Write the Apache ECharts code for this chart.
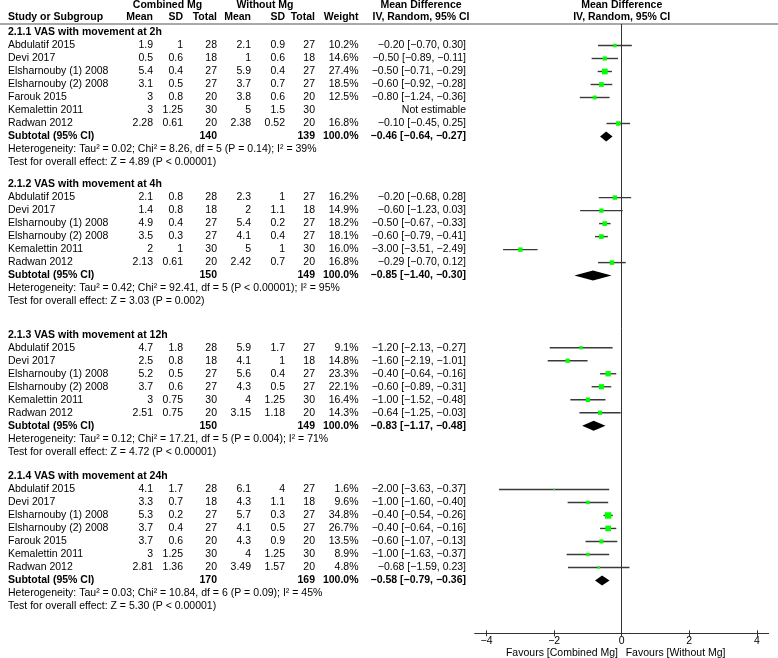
<!DOCTYPE html>
<html><head><meta charset="utf-8">
<script src="https://cdn.jsdelivr.net/npm/echarts@6/dist/echarts.min.js"></script>
<style>html,body{margin:0;padding:0;background:#fff}#c{width:778px;height:658px}</style>
</head><body><div id="c"></div>
<script>
// ---------------- DATA ----------------
const subgroupTitles = [
  '2.1.1 VAS with movement at 2h',
  '2.1.2 VAS with movement at 4h',
  '2.1.3 VAS with movement at 12h',
  '2.1.4 VAS with movement at 24h'
];
// [study, combined mean, SD, total, without mean, SD, total, weight %, MD, CI low, CI high]
const studies2h = [
  ['Abdulatif 2015', 1.9, 1, 28, 2.1, 0.9, 27, 10.2, -0.20, -0.70, 0.30],
  ['Devi 2017', 0.5, 0.6, 18, 1, 0.6, 18, 14.6, -0.50, -0.89, -0.11],
  ['Elsharnouby (1) 2008', 5.4, 0.4, 27, 5.9, 0.4, 27, 27.4, -0.50, -0.71, -0.29],
  ['Elsharnouby (2) 2008', 3.1, 0.5, 27, 3.7, 0.7, 27, 18.5, -0.60, -0.92, -0.28],
  ['Farouk 2015', 3, 0.8, 20, 3.8, 0.6, 20, 12.5, -0.80, -1.24, -0.36],
  ['Kemalettin 2011', 3, 1.25, 30, 5, 1.5, 30, null, null, null, null],
  ['Radwan 2012', 2.28, 0.61, 20, 2.38, 0.52, 20, 16.8, -0.10, -0.45, 0.25]
];
const studies4h = [
  ['Abdulatif 2015', 2.1, 0.8, 28, 2.3, 1, 27, 16.2, -0.20, -0.68, 0.28],
  ['Devi 2017', 1.4, 0.8, 18, 2, 1.1, 18, 14.9, -0.60, -1.23, 0.03],
  ['Elsharnouby (1) 2008', 4.9, 0.4, 27, 5.4, 0.2, 27, 18.2, -0.50, -0.67, -0.33],
  ['Elsharnouby (2) 2008', 3.5, 0.3, 27, 4.1, 0.4, 27, 18.1, -0.60, -0.79, -0.41],
  ['Kemalettin 2011', 2, 1, 30, 5, 1, 30, 16.0, -3.00, -3.51, -2.49],
  ['Radwan 2012', 2.13, 0.61, 20, 2.42, 0.7, 20, 16.8, -0.29, -0.70, 0.12]
];
const studies12h = [
  ['Abdulatif 2015', 4.7, 1.8, 28, 5.9, 1.7, 27, 9.1, -1.20, -2.13, -0.27],
  ['Devi 2017', 2.5, 0.8, 18, 4.1, 1, 18, 14.8, -1.60, -2.19, -1.01],
  ['Elsharnouby (1) 2008', 5.2, 0.5, 27, 5.6, 0.4, 27, 23.3, -0.40, -0.64, -0.16],
  ['Elsharnouby (2) 2008', 3.7, 0.6, 27, 4.3, 0.5, 27, 22.1, -0.60, -0.89, -0.31],
  ['Kemalettin 2011', 3, 0.75, 30, 4, 1.25, 30, 16.4, -1.00, -1.52, -0.48],
  ['Radwan 2012', 2.51, 0.75, 20, 3.15, 1.18, 20, 14.3, -0.64, -1.25, -0.03]
];
const studies24h = [
  ['Abdulatif 2015', 4.1, 1.7, 28, 6.1, 4, 27, 1.6, -2.00, -3.63, -0.37],
  ['Devi 2017', 3.3, 0.7, 18, 4.3, 1.1, 18, 9.6, -1.00, -1.60, -0.40],
  ['Elsharnouby (1) 2008', 5.3, 0.2, 27, 5.7, 0.3, 27, 34.8, -0.40, -0.54, -0.26],
  ['Elsharnouby (2) 2008', 3.7, 0.4, 27, 4.1, 0.5, 27, 26.7, -0.40, -0.64, -0.16],
  ['Farouk 2015', 3.7, 0.6, 20, 4.3, 0.9, 20, 13.5, -0.60, -1.07, -0.13],
  ['Kemalettin 2011', 3, 1.25, 30, 4, 1.25, 30, 8.9, -1.00, -1.63, -0.37],
  ['Radwan 2012', 2.81, 1.36, 20, 3.49, 1.57, 20, 4.8, -0.68, -1.59, 0.23]
];
// [combined total, without total, MD, CI low, CI high]
const subtotals = [
  [140, 139, -0.46, -0.64, -0.27],
  [150, 149, -0.85, -1.40, -0.30],
  [150, 149, -0.83, -1.17, -0.48],
  [170, 169, -0.58, -0.79, -0.36]
];
const heterogeneity = [
  'Heterogeneity: Tau² = 0.02; Chi² = 8.26, df = 5 (P = 0.14); I² = 39%',
  'Heterogeneity: Tau² = 0.42; Chi² = 92.41, df = 5 (P < 0.00001); I² = 95%',
  'Heterogeneity: Tau² = 0.12; Chi² = 17.21, df = 5 (P = 0.004); I² = 71%',
  'Heterogeneity: Tau² = 0.03; Chi² = 10.84, df = 6 (P = 0.09); I² = 45%'
];
const overallEffect = [
  'Test for overall effect: Z = 4.89 (P < 0.00001)',
  'Test for overall effect: Z = 3.03 (P = 0.002)',
  'Test for overall effect: Z = 4.72 (P < 0.00001)',
  'Test for overall effect: Z = 5.30 (P < 0.00001)'
];
const xTicks = [-4, -2, 0, 2, 4];
const favoursLeft = 'Favours [Combined Mg]';
const favoursRight = 'Favours [Without Mg]';

// ---------------- LAYOUT ----------------
const studyGroups = [studies2h, studies4h, studies12h, studies24h];
const sectionStart = [0, 11.7, 23.25, 34.15];   // row positions of subgroup titles
const FONT = '"Liberation Sans", Arial, sans-serif';
const FS = 10.5;
const COL = { name: 8, cMean: 153, cSD: 183, cN: 217, wMean: 251, wSD: 285, wN: 315, weight: 358.5, ci: 466 };

const minus = s => s.replace(/-/g, '\u2212');
const f2 = v => minus(v.toFixed(2));
const ciText = (m, l, h) => f2(m) + ' [' + f2(l) + ', ' + f2(h) + ']';

const rows = [];
const studyPts = [];
const diamonds = [];
studyGroups.forEach((grp, s) => {
  const h = sectionStart[s];
  rows.push({ kind: 'title', v: h, text: subgroupTitles[s] });
  grp.forEach((d, k) => {
    const v = h + k + 1;
    rows.push({ kind: 'study', v, d });
    if (d[8] !== null) studyPts.push([d[8], v, d[9], d[10], d[7]]);
  });
  const st = subtotals[s];
  const vs = h + grp.length + 1;
  rows.push({ kind: 'subtotal', v: vs, st });
  diamonds.push([st[2], vs, st[3], st[4]]);
  rows.push({ kind: 'note', v: vs + 1, text: heterogeneity[s] });
  rows.push({ kind: 'note', v: vs + 2, text: overallEffect[s] });
});

const GRID_TOP = 24, AXIS_Y = 633.3, ROW0_Y = 32.5, ROW_H = 13;
const PLOT_LEFT = 474.7, PLOT_W = 294;
const yMin = (GRID_TOP - ROW0_Y) / ROW_H;
const yMax = (AXIS_Y - ROW0_Y) / ROW_H;

function txt(x, y, text, align, bold) {
  return { type: 'text', x, y, silent: true,
    style: { text, fill: '#000', fontFamily: FONT, fontSize: FS, fontWeight: bold ? 'bold' : 'normal',
      textAlign: align, textVerticalAlign: 'middle' } };
}

const chart = echarts.init(document.getElementById('c'), null, { renderer: 'canvas' });
chart.setOption({
  animation: false,
  backgroundColor: '#fff',
  grid: [
    { left: PLOT_LEFT, width: PLOT_W, top: GRID_TOP, height: AXIS_Y - GRID_TOP },
    { left: PLOT_LEFT, width: PLOT_W, top: AXIS_Y - 20, height: 20 }
  ],
  xAxis: [{
    gridIndex: 0, type: 'value', min: -4.35, max: 4.35, position: 'bottom',
    splitLine: { show: false },
    axisLine: { show: true, onZero: false, lineStyle: { color: '#333', width: 1 } },
    axisTick: { show: true, inside: false, length: 3, customValues: xTicks, lineStyle: { color: '#333' } },
    axisLabel: { show: true, customValues: xTicks, margin: 2, color: '#000', fontFamily: FONT, fontSize: FS,
      formatter: v => minus(String(v)) }
  }, {
    gridIndex: 1, type: 'value', min: -4.35, max: 4.35, position: 'bottom',
    splitLine: { show: false }, axisLine: { show: false, onZero: false },
    axisTick: { show: true, inside: true, length: 3, customValues: xTicks, lineStyle: { color: '#333' } },
    axisLabel: { show: false }
  }],
  yAxis: [
    { gridIndex: 0, type: 'value', inverse: true, min: yMin, max: yMax, show: false },
    { gridIndex: 1, type: 'value', min: 0, max: 1, show: false }
  ],
  graphic: [
    { type: 'line', shape: { x1: 0, y1: GRID_TOP, x2: 778, y2: GRID_TOP }, style: { stroke: '#555', lineWidth: 1.2 }, silent: true },
    txt(167.5, 5.5, 'Combined Mg', 'center', true),
    txt(265, 5.5, 'Without Mg', 'center', true),
    txt(421, 5.5, 'Mean Difference', 'center', true),
    txt(621.7, 5.5, 'Mean Difference', 'center', true),
    txt(COL.name, 16.7, 'Study or Subgroup', 'left', true),
    txt(COL.cMean, 16.7, 'Mean', 'right', true),
    txt(COL.cSD, 16.7, 'SD', 'right', true),
    txt(COL.cN, 16.7, 'Total', 'right', true),
    txt(COL.wMean, 16.7, 'Mean', 'right', true),
    txt(COL.wSD, 16.7, 'SD', 'right', true),
    txt(COL.wN, 16.7, 'Total', 'right', true),
    txt(COL.weight, 16.7, 'Weight', 'right', true),
    txt(421, 16.7, 'IV, Random, 95% CI', 'center', true),
    txt(621.7, 16.7, 'IV, Random, 95% CI', 'center', true),
    txt(618, 653.3, favoursLeft, 'right', false),
    txt(625.7, 653.3, favoursRight, 'left', false)
  ],
  series: [
    {
      type: 'custom', name: 'table', clip: false, silent: true,
      xAxisIndex: 0, yAxisIndex: 0,
      data: rows.map(r => [0, r.v]),
      encode: { x: 0, y: 1 },
      renderItem: (params, api) => {
        const r = rows[params.dataIndex];
        const y = api.coord([0, r.v])[1];
        const ch = [];
        if (r.kind === 'title') ch.push(txt(COL.name, y, r.text, 'left', true));
        else if (r.kind === 'note') ch.push(txt(COL.name, y, r.text, 'left', false));
        else if (r.kind === 'study') {
          const d = r.d;
          ch.push(txt(COL.name, y, d[0], 'left', false));
          ch.push(txt(COL.cMean, y, String(d[1]), 'right', false));
          ch.push(txt(COL.cSD, y, String(d[2]), 'right', false));
          ch.push(txt(COL.cN, y, String(d[3]), 'right', false));
          ch.push(txt(COL.wMean, y, String(d[4]), 'right', false));
          ch.push(txt(COL.wSD, y, String(d[5]), 'right', false));
          ch.push(txt(COL.wN, y, String(d[6]), 'right', false));
          if (d[8] === null) {
            ch.push(txt(COL.ci, y, 'Not estimable', 'right', false));
          } else {
            ch.push(txt(COL.weight, y, d[7].toFixed(1) + '%', 'right', false));
            ch.push(txt(COL.ci, y, ciText(d[8], d[9], d[10]), 'right', false));
          }
        } else if (r.kind === 'subtotal') {
          const st = r.st;
          ch.push(txt(COL.name, y, 'Subtotal (95% CI)', 'left', true));
          ch.push(txt(COL.cN, y, String(st[0]), 'right', true));
          ch.push(txt(COL.wN, y, String(st[1]), 'right', true));
          ch.push(txt(COL.weight, y, '100.0%', 'right', true));
          ch.push(txt(COL.ci, y, ciText(st[2], st[3], st[4]), 'right', true));
        }
        return { type: 'group', children: ch };
      }
    },
    {
      type: 'custom', name: 'studies', clip: false, silent: true,
      xAxisIndex: 0, yAxisIndex: 0,
      data: studyPts,
      encode: { x: [0, 2, 3], y: 1 },
      renderItem: (params, api) => {
        const p = api.coord([api.value(0), api.value(1)]);
        const pl = api.coord([api.value(2), api.value(1)]);
        const ph = api.coord([api.value(3), api.value(1)]);
        const sz = 1.1 * Math.sqrt(api.value(4));
        return { type: 'group', children: [
          { type: 'line', shape: { x1: pl[0], y1: p[1], x2: ph[0], y2: p[1] }, style: { stroke: '#3a3a3a', lineWidth: 1.4 } },
          { type: 'rect', shape: { x: p[0] - sz / 2, y: p[1] - sz / 2, width: sz, height: sz }, style: { fill: '#00ff00' } }
        ] };
      },
      markLine: {
        silent: true, symbol: 'none', label: { show: false },
        lineStyle: { color: '#333', width: 1, type: 'solid' },
        data: [{ xAxis: 0 }]
      }
    },
    {
      type: 'custom', name: 'subtotals', clip: false, silent: true,
      xAxisIndex: 0, yAxisIndex: 0,
      data: diamonds,
      encode: { x: [0, 2, 3], y: 1 },
      renderItem: (params, api) => {
        const p = api.coord([api.value(0), api.value(1)]);
        const pl = api.coord([api.value(2), api.value(1)]);
        const ph = api.coord([api.value(3), api.value(1)]);
        const hh = 5;
        return { type: 'polygon', shape: { points: [[pl[0], p[1]], [p[0], p[1] - hh], [ph[0], p[1]], [p[0], p[1] + hh]] },
          style: { fill: '#000' } };
      }
    }
  ]
});
</script></body></html>
